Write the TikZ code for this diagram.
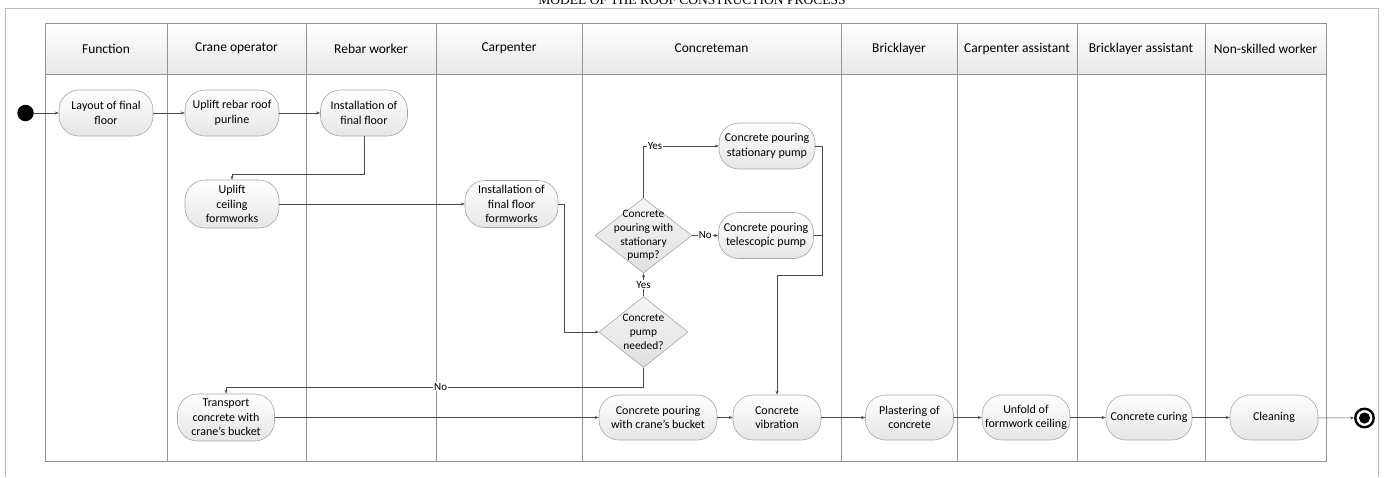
\documentclass[tikz,border=0pt]{standalone}
\usepackage{fontspec}
\setmainfont{Carlito}
\newfontfamily\titlefont{Liberation Serif}
\usetikzlibrary{shapes.geometric,arrows.meta,calc}
\begin{document}
\begin{tikzpicture}[x=1pt,y=-1pt,
  frame/.style={draw=gray!55, line width=0.8pt},
  grid/.style={draw=gray!85, line width=0.6pt},
  act/.style={draw=gray!70, line width=0.6pt, rounded corners=20pt, top color=white, bottom color=gray!20,
    minimum height=46pt, inner sep=1pt, align=center, font=\fontsize{12}{14.5}\selectfont},
  dia/.style={diamond, draw=gray!70, line width=0.6pt, top color=gray!8, bottom color=gray!24, inner sep=0pt},
  dtext/.style={align=center, font=\fontsize{11.4}{13.7}\selectfont, inner sep=0pt},
  hdr/.style={font=\fontsize{13.5}{16}\selectfont},
  flow/.style={draw=gray!60!black, line width=0.5pt, -{Stealth[length=4pt,width=3pt]}},
  link/.style={draw=gray!60!black, line width=0.5pt},
  lbl/.style={fill=white, inner sep=0.8pt, font=\fontsize{11}{13}\selectfont},
]
\useasboundingbox (0,0) rectangle (1385,477);
% title and outer frame
\node[font=\titlefont\fontsize{13.5}{16}\selectfont, anchor=base] (title) at (692,4) {MODEL OF THE ROOF CONSTRUCTION PROCESS};
\draw[frame] (5,477) -- (5,8) -- (1378.5,8) -- (1378.5,477);
% swimlane table
\path[top color=white, bottom color=gray!18] (45,23) rectangle (1326,74);
\draw[grid] (45,23) rectangle (1326,461);
\draw[grid] (45,74) -- (1326,74);
\foreach \cx in {167,306,436,582,841,957,1077,1205} {\draw[grid] (\cx,23) -- (\cx,461);}
\node[hdr] (h1) at (106,48.5) {Function};
\node[hdr] (h2) at (236.5,48.5) {Crane operator};
\node[hdr] (h3) at (371,48.5) {Rebar worker};
\node[hdr] (h4) at (509,48.5) {Carpenter};
\node[hdr] (h5) at (711.5,48.5) {Concreteman};
\node[hdr] (h6) at (899,48.5) {Bricklayer};
\node[hdr] (h7) at (1017,48.5) {Carpenter assistant};
\node[hdr] (h8) at (1141,48.5) {Bricklayer assistant};
\node[hdr] (h9) at (1265.5,48.5) {Non-skilled worker};
% nodes
\node[circle, fill=black, minimum size=16.5pt, inner sep=0pt] (start) at (25.5,113) {};
\node[act, minimum width=94pt] (n1) at (106,113) {Layout of final\\floor};
\node[act, minimum width=94pt] (n2) at (232,113) {Uplift rebar roof\\purline};
\node[act, minimum width=87pt] (n3) at (364,113) {Installation of\\final floor};
\node[act, minimum width=94pt, minimum height=48pt] (n4) at (232,204) {Uplift\\ceiling\\formworks};
\node[act, minimum width=93pt, minimum height=47pt] (n5) at (511.5,204) {Installation of\\final floor\\formworks};
\node[dia, minimum width=89pt, minimum height=71pt] (d1) at (643.5,332) {};
\node[dtext] (d1t) at (d1) {Concrete\\pump\\needed?};
\node[dia, minimum width=97pt, minimum height=75pt] (d2) at (643.5,235.5) {};
\node[dtext] (d2t) at (d2) {Concrete\\pouring with\\stationary\\pump?};
\node[act, minimum width=96pt] (n6) at (767,146) {Concrete pouring\\stationary pump};
\node[act, minimum width=95pt] (n7) at (766,235.5) {Concrete pouring\\telescopic pump};
\node[act, minimum width=97pt, minimum height=47pt] (n8) at (226,417.5) {Transport\\concrete with\\crane’s bucket};
\node[act, minimum width=118pt, minimum height=45pt] (n9) at (658,417.5) {Concrete pouring\\with crane’s bucket};
\node[act, minimum width=88pt, minimum height=45pt] (n10) at (777,417.5) {Concrete\\vibration};
\node[act, minimum width=88pt, minimum height=45pt] (n11) at (909.5,417.5) {Plastering of\\concrete};
\node[act, minimum width=88pt, minimum height=45pt] (n12) at (1026,417.5) {Unfold of\\formwork ceiling};
\node[act, minimum width=86pt, minimum height=45pt] (n13) at (1149,417.5) {Concrete curing};
\node[act, minimum width=88pt, minimum height=45pt] (n14) at (1274,417.5) {Cleaning};
\node[circle, draw=black, line width=2.4pt, minimum size=18.5pt, inner sep=0pt] (end) at (1364.5,418) {};
\fill[black] (end.center) circle[radius=5.6pt];
\coordinate (m1) at (822,275);
% connectors
\draw[flow] (start) -- (n1);
\draw[flow] (n1) -- (n2);
\draw[flow] (n2) -- (n3);
\draw[flow] (n3.south) -- ++(0,38) -| (n4.north);
\draw[flow] (n4) -- (n5);
\draw[flow] (n5.east) -- ++(6,0) |- (d1.west);
\draw[flow] (d1.north) -- node[lbl] (y1) {Yes} (d2.south);
\draw[flow] (d2.north) |- node[lbl, pos=0.576] (y2) {Yes} (n6.west);
\draw[flow] (d2.east) -- node[lbl] (no1) {No} (n7.west);
\draw[flow] (n6.east) -| (m1) -| (n10.north);
\draw[link] (n7.east) -- (n7.east -| m1);
\draw[flow] (d1.south) -- ++(0,19) -| node[lbl, pos=0.243] (no2) {No} (n8.north);
\draw[flow] (n8) -- (n9);
\draw[flow] (n9) -- (n10);
\draw[flow] (n10) -- (n11);
\draw[flow] (n11) -- (n12);
\draw[flow] (n12) -- (n13);
\draw[flow] (n13) -- (n14);
\draw[flow] (n14) -- (end);
\end{tikzpicture}
\end{document}
